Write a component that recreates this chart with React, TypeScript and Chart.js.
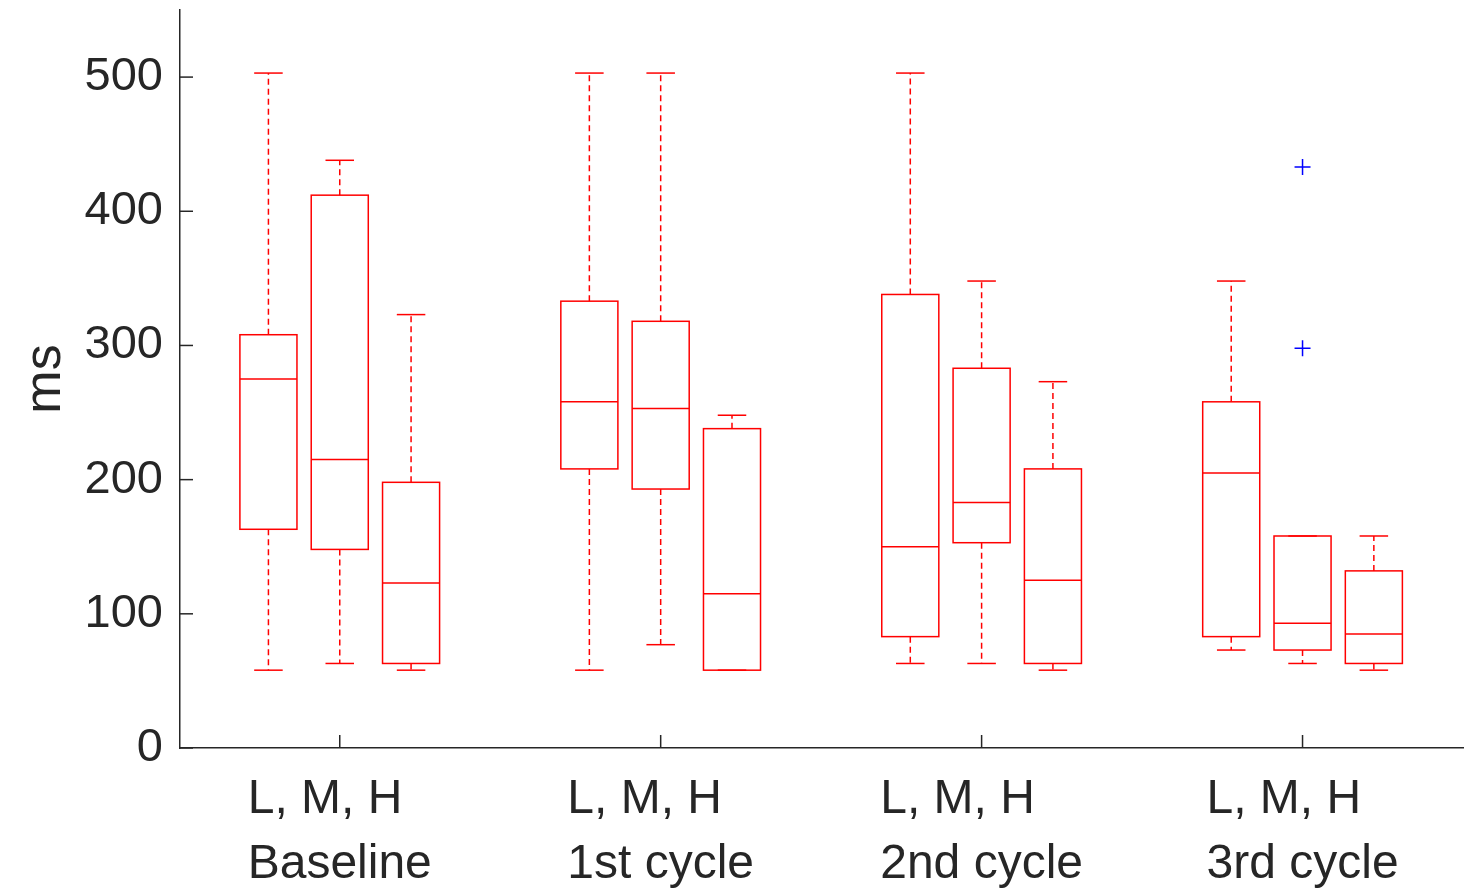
import React, { useEffect, useRef } from "react";
import { Chart, registerables } from "chart.js";

Chart.register(...registerables);

// Group captions under the x axis
const groupNames = ["Baseline", "1st cycle", "2nd cycle", "3rd cycle"];
const levelCaption = "L, M, H";

// Box statistics (ms), ordered L, M, H within each group
const whiskerLow = [58, 63, 58, 58, 77, 58, 63, 63, 58, 73, 63, 58];
const quartile1 = [163, 148, 63, 208, 193, 58, 83, 153, 63, 83, 73, 63];
const medians = [275, 215, 123, 258, 253, 115, 150, 183, 125, 205, 93, 85];
const quartile3 = [308, 412, 198, 333, 318, 238, 338, 283, 208, 258, 158, 132];
const whiskerHigh = [503, 438, 323, 503, 503, 248, 503, 348, 273, 348, 158, 158];

// Outliers: index of the box they belong to, and their values
const outlierBox = [10, 10];
const outlierValues = [433, 298];

// Y axis ticks
const yTicks = [0, 100, 200, 300, 400, 500];

const GROUP_STEP = 4.5;
const boxPositions = medians.map((_, i) => Math.floor(i / 3) * GROUP_STEP + (i % 3) + 1);
const groupCenters = groupNames.map((_, g) => g * GROUP_STEP + 2);

const BOX_WIDTH = 0.8;
const CAP_WIDTH = 0.4;
const RED = "#ff0000";
const AXIS = "#262626";
const FONT = '"Liberation Sans", Arial, Helvetica, sans-serif';
const X_LABEL_SIZE = 48;
const X_LINE_GAP = 65;

const boxPlugin = {
  id: "boxPlot",
  afterDatasetsDraw(chart: any) {
    const { ctx, scales, chartArea } = chart;
    const x = scales.x;
    const y = scales.y;
    const line = (x1: number, y1: number, x2: number, y2: number) => {
      ctx.beginPath();
      ctx.moveTo(x1, y1);
      ctx.lineTo(x2, y2);
      ctx.stroke();
    };
    ctx.save();
    ctx.strokeStyle = RED;
    ctx.lineWidth = 1.5;
    for (let i = 0; i < medians.length; i++) {
      const p = boxPositions[i];
      const xc = x.getPixelForValue(p);
      const xl = x.getPixelForValue(p - BOX_WIDTH / 2);
      const xr = x.getPixelForValue(p + BOX_WIDTH / 2);
      const cl = x.getPixelForValue(p - CAP_WIDTH / 2);
      const cr = x.getPixelForValue(p + CAP_WIDTH / 2);
      const yLo = y.getPixelForValue(whiskerLow[i]);
      const yQ1 = y.getPixelForValue(quartile1[i]);
      const yMed = y.getPixelForValue(medians[i]);
      const yQ3 = y.getPixelForValue(quartile3[i]);
      const yHi = y.getPixelForValue(whiskerHigh[i]);

      ctx.setLineDash([6, 4]);
      if (yHi < yQ3) line(xc, yQ3, xc, yHi);
      if (yLo > yQ1) line(xc, yQ1, xc, yLo);
      ctx.setLineDash([]);
      line(cl, yHi, cr, yHi);
      line(cl, yLo, cr, yLo);
      ctx.strokeRect(xl, yQ3, xr - xl, yQ1 - yQ3);
      line(xl, yMed, xr, yMed);
    }

    // inward tick marks
    ctx.strokeStyle = AXIS;
    ctx.lineWidth = 1.5;
    const tickLen = 13;
    y.ticks.forEach((t: any) => {
      const py = y.getPixelForValue(t.value);
      line(chartArea.left, py, chartArea.left + tickLen, py);
    });
    x.ticks.forEach((t: any) => {
      const px = x.getPixelForValue(t.value);
      line(px, chartArea.bottom, px, chartArea.bottom - tickLen);
    });

    // two-line group labels, lines left-aligned, block centred on the tick
    ctx.fillStyle = AXIS;
    ctx.font = `${X_LABEL_SIZE}px ${FONT}`;
    ctx.textAlign = "left";
    ctx.textBaseline = "alphabetic";
    x.ticks.forEach((t: any, i: number) => {
      const px = x.getPixelForValue(t.value);
      const lines = [levelCaption, groupNames[i]];
      const w = Math.max(...lines.map((s) => ctx.measureText(s).width));
      lines.forEach((s, k) => {
        ctx.fillText(s, px - w / 2, chartArea.bottom + X_LINE_GAP * (k + 1));
      });
    });
    ctx.restore();
  },
};

export default function App() {
  const canvasRef = useRef<HTMLCanvasElement | null>(null);

  useEffect(() => {
    const canvas = canvasRef.current;
    if (!canvas) return;
    const chart = new Chart(canvas, {
      type: "scatter",
      data: {
        datasets: [
          {
            label: "outliers",
            data: outlierBox.map((b, k) => ({ x: boxPositions[b], y: outlierValues[k] })),
            pointStyle: "cross",
            radius: 8,
            borderColor: "#0000ff",
            backgroundColor: "#0000ff",
            borderWidth: 1.5,
          },
        ],
      },
      options: {
        animation: false,
        responsive: false,
        devicePixelRatio: 1,
        layout: { autoPadding: false, padding: { top: 10, right: 5, left: 0, bottom: 0 } },
        plugins: {
          legend: { display: false },
          tooltip: { enabled: false },
        },
        scales: {
          x: {
            type: "linear",
            min: -0.24,
            max: 17.75,
            grid: { display: false, drawTicks: false },
            border: { display: true, color: AXIS, width: 1.5 },
            afterBuildTicks: (scale: any) => {
              scale.ticks = groupCenters.map((v) => ({ value: v }));
            },
            afterFit: (scale: any) => {
              scale.height = 144;
              scale.paddingLeft = 0;
              scale.paddingRight = 0;
            },
            ticks: {
              display: false,
              autoSkip: false,
              maxRotation: 0,
            },
          },
          y: {
            type: "linear",
            min: 0,
            max: 550,
            grid: { display: false, drawTicks: false },
            border: { display: true, color: AXIS, width: 1.5 },
            afterBuildTicks: (scale: any) => {
              scale.ticks = yTicks.map((v) => ({ value: v }));
            },
            afterFit: (scale: any) => {
              scale.width = 180;
              scale.paddingTop = 0;
              scale.paddingBottom = 0;
            },
            ticks: {
              padding: 17,
              color: AXIS,
              font: { family: FONT, size: 47 },
            },
            title: {
              display: true,
              text: "ms",
              color: AXIS,
              padding: { top: 14, bottom: 0 },
              font: { family: FONT, size: 52 },
            },
          },
        },
      },
      plugins: [boxPlugin],
    } as any);
    return () => chart.destroy();
  }, []);

  return (
    <div style={{ position: "absolute", left: 0, top: 0, width: 1468, height: 892, background: "#fff" }}>
      <canvas ref={canvasRef} width={1468} height={892} style={{ display: "block" }} />
    </div>
  );
}
